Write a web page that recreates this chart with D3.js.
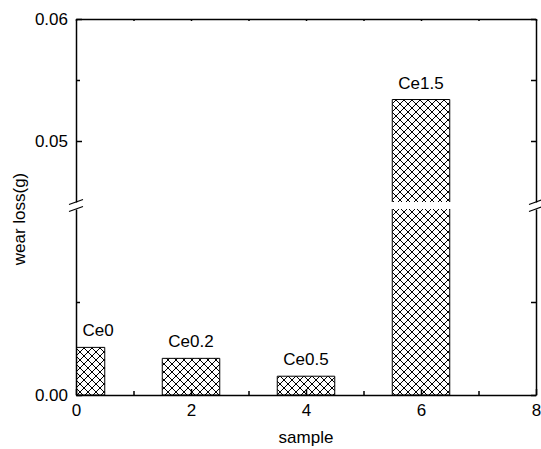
<!DOCTYPE html>
<html>
<head>
<meta charset="utf-8">
<script src="https://cdn.jsdelivr.net/npm/d3@7"></script>
<style>
  body { margin: 0; background: #fff; }
  svg { display: block; }
</style>
</head>
<body>
<svg></svg>
<script>
// data
const samples = ['Ce0', 'Ce0.2', 'Ce0.5', 'Ce1.5']
const samplePos = [0, 2, 4, 6]
const wearLoss = [0.00256, 0.00197, 0.00101, 0.0534]
const xTicks = [0, 2, 4, 6, 8]
const xMinorTicks = [1, 3, 5, 7]
const lowerRange = [0, 0.01]      // below the break
const upperRange = [0.045, 0.06]  // above the break
const yTicksLower = [0.00]
const yMinorLower = [0.005]
const yTicksUpper = [0.05, 0.06]
const yMinorUpper = [0.055]

const width = 541
const height = 449
const marge = {left: 76, right: 536, top: 19, bottom: 395}
const breakTop = 202, breakBottom = 209
const font = '"Liberation Sans", Arial, sans-serif'

const svg = d3.select('svg').attr('width', width).attr('height', height)

const x = d3.scaleLinear().domain([0, 8]).range([marge.left, marge.right])
const yLow = d3.scaleLinear().domain(lowerRange).range([marge.bottom, breakBottom])
const yUp = d3.scaleLinear().domain(upperRange).range([breakTop, marge.top])

// 交叉斜线填充
const defs = svg.append('defs')
const pat = defs.append('pattern').attr('id', 'hatch')
    .attr('patternUnits', 'userSpaceOnUse').attr('width', 8).attr('height', 8)
pat.append('path').attr('d', 'M0,0L8,8M-1,7L1,9M7,-1L9,1M8,0L0,8M-1,1L1,-1M7,9L9,7')
    .attr('stroke', '#000').attr('stroke-width', 1).attr('fill', 'none')
defs.append('clipPath').attr('id', 'clip').append('rect')
    .attr('x', marge.left).attr('y', marge.top)
    .attr('width', marge.right - marge.left).attr('height', marge.bottom - marge.top)

const bars = svg.append('g').attr('clip-path', 'url(#clip)')
const halfW = (x(1) - x(0)) / 2

// 画柱子：填充 + 边框（断开处不画横线）
function barPiece(x0, x1, y0, y1, closeTop, closeBottom) {
    bars.append('rect').attr('x', x0).attr('y', y0)
        .attr('width', x1 - x0).attr('height', y1 - y0)
        .attr('fill', 'url(#hatch)')
    const p = d3.path()
    if (closeTop) { p.moveTo(x0, y1); p.lineTo(x0, y0); p.lineTo(x1, y0); p.lineTo(x1, y1) }
    else { p.moveTo(x0, y0); p.lineTo(x0, y1); p.moveTo(x1, y0); p.lineTo(x1, y1) }
    if (closeBottom) { p.moveTo(x0, y1); p.lineTo(x1, y1) }
    bars.append('path').attr('d', p.toString())
        .attr('fill', 'none').attr('stroke', '#000').attr('stroke-width', 1)
}

samples.forEach(function (name, i) {
    const cx = x(samplePos[i])
    const v = wearLoss[i]
    const broken = v > upperRange[0]
    const yl = yLow(Math.min(v, lowerRange[1]))
    barPiece(cx - halfW, cx + halfW, yl, marge.bottom, !broken, true)
    if (broken) {
        barPiece(cx - halfW, cx + halfW, yUp(v), breakTop, true, false)
    }
})

// 柱子上方标签
samples.forEach(function (name, i) {
    const v = wearLoss[i]
    const yTop = v > upperRange[0] ? yUp(v) : yLow(v)
    const x0 = Math.max(x(samplePos[i]) - halfW, marge.left)
    const x1 = x(samplePos[i]) + halfW
    let cx = (x0 + x1) / 2
    cx = Math.max(cx, marge.left + 22)
    svg.append('text').attr('x', cx).attr('y', yTop - 11)
        .attr('text-anchor', 'middle').attr('font-family', font).attr('font-size', 17)
        .text(name)
})

function style(g) {
    g.selectAll('path,line').attr('stroke', '#000').attr('stroke-width', 1.5)
    g.selectAll('text').attr('font-family', font).attr('font-size', 17).attr('fill', '#000')
    g.attr('font-family', null).attr('font-size', null)
}

// x axes
svg.append('g').attr('transform', `translate(0,${marge.bottom})`)
    .call(d3.axisBottom(x).tickValues(xTicks).tickSizeInner(-6).tickSizeOuter(0).tickPadding(9).tickFormat(d3.format('d')))
    .call(style)
svg.append('g').attr('transform', `translate(0,${marge.bottom})`)
    .call(d3.axisBottom(x).tickValues(xMinorTicks).tickSizeInner(-4).tickSizeOuter(0).tickFormat(''))
    .call(style).call(g => g.select('.domain').remove())
svg.append('g').attr('transform', `translate(0,${marge.top})`)
    .call(d3.axisTop(x).tickValues(d3.merge([xTicks, xMinorTicks])).tickSizeInner(-2).tickSizeOuter(0).tickFormat(''))
    .call(style)

// y axes, two pieces each side
const fmt = d3.format('.2f')
;[[yLow, yTicksLower, yMinorLower], [yUp, yTicksUpper, yMinorUpper]].forEach(function (s) {
    svg.append('g').attr('transform', `translate(${marge.left},0)`)
        .call(d3.axisLeft(s[0]).tickValues(s[1]).tickSizeInner(-6).tickSizeOuter(0).tickPadding(8).tickFormat(fmt))
        .call(style)
    svg.append('g').attr('transform', `translate(${marge.left},0)`)
        .call(d3.axisLeft(s[0]).tickValues(s[2]).tickSizeInner(-4).tickSizeOuter(0).tickFormat(''))
        .call(style).call(g => g.select('.domain').remove())
    svg.append('g').attr('transform', `translate(${marge.right},0)`)
        .call(d3.axisRight(s[0]).tickValues(d3.merge([s[1], s[2]])).tickSizeInner(-5).tickSizeOuter(0).tickFormat(''))
        .call(style)
})

// 断轴标记
;[marge.left, marge.right].forEach(function (ax) {
    ;[breakTop, breakBottom].forEach(function (yb) {
        svg.append('line')
            .attr('x1', ax - 7).attr('y1', yb + 2.5)
            .attr('x2', ax + 7).attr('y2', yb - 2.5)
            .attr('stroke', '#000').attr('stroke-width', 1.2)
    })
})

// axis titles
svg.append('text').attr('x', x(4)).attr('y', 443)
    .attr('text-anchor', 'middle').attr('font-family', font).attr('font-size', 17)
    .text('sample')
svg.append('text').attr('transform', 'translate(25,219) rotate(-90)')
    .attr('text-anchor', 'middle').attr('font-family', font).attr('font-size', 17)
    .text('wear loss(g)')
</script>
</body>
</html>
